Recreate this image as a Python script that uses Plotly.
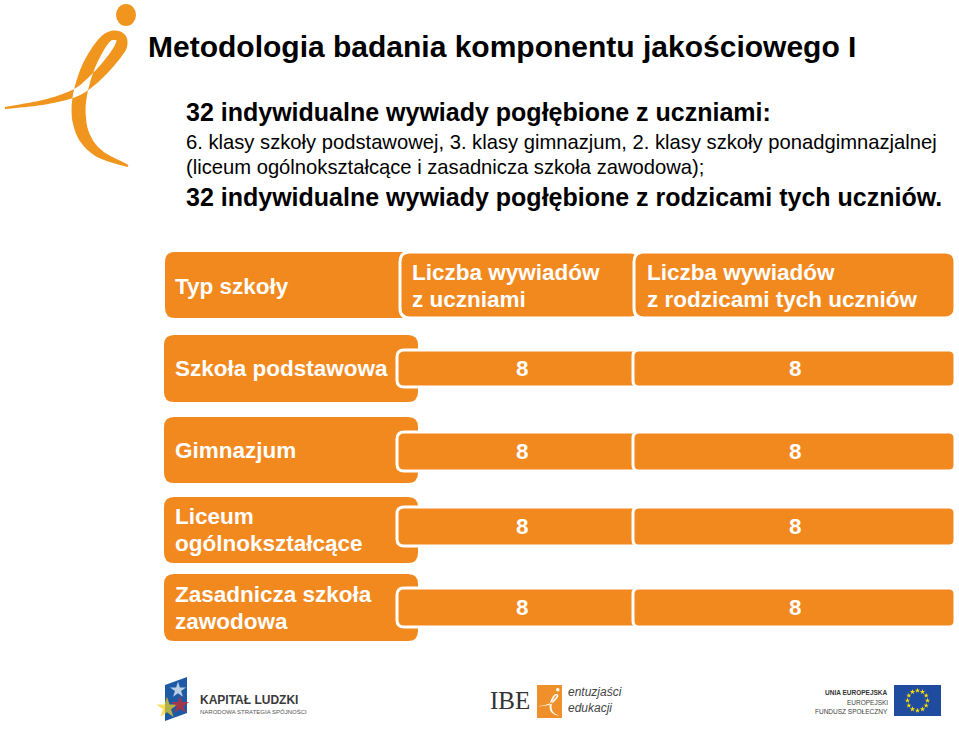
import numpy as np
import plotly.graph_objects as go

W, H = 959, 729

# ---------------- data ----------------
title = "Metodologia badania komponentu jakościowego I"
intro_bold_1 = "32 indywidualne wywiady pogłębione z uczniami:"
intro_regular = [
    "6. klasy szkoły podstawowej, 3. klasy gimnazjum, 2. klasy szkoły ponadgimnazjalnej",
    "(liceum ogólnokształcące i zasadnicza szkoła zawodowa);",
]
intro_bold_2 = "32 indywidualne wywiady pogłębione z rodzicami tych uczniów."

header_labels = ["Typ szkoły", "Liczba wywiadów<br>z uczniami", "Liczba wywiadów<br>z rodzicami tych uczniów"]
school_types = ["Szkoła podstawowa", "Gimnazjum", "Liceum<br>ogólnokształcące", "Zasadnicza szkoła<br>zawodowa"]
interviews_students = [8, 8, 8, 8]
interviews_parents = [8, 8, 8, 8]

# ---------------- style ----------------
ORANGE = "#F2891F"
LOGO = "#F0961E"
FONT = "Liberation Sans, Arial, sans-serif"
TABLE_FS = 22.5
LINE_GAP = 27

shapes = []
annotations = []


def rrect(x0, y0, x1, y1, r):
    return (f"M {x0+r},{y0} L {x1-r},{y0} Q {x1},{y0} {x1},{y0+r} "
            f"L {x1},{y1-r} Q {x1},{y1} {x1-r},{y1} L {x0+r},{y1} "
            f"Q {x0},{y1} {x0},{y1-r} L {x0},{y0+r} Q {x0},{y0} {x0+r},{y0} Z")


def add_box(x0, y0, x1, y1, r, outline=0):
    shapes.append(dict(type="path", path=rrect(x0, y0, x1, y1, r), xref="x", yref="y",
                       fillcolor=ORANGE,
                       line=dict(color="white", width=outline) if outline else dict(width=0),
                       layer="above"))


def text(x, y, s, size, bold=False, color="black", anchor="left", family=FONT, italic=False):
    if bold:
        s = f"<b>{s}</b>"
    if italic:
        s = f"<i>{s}</i>"
    dx = {"left": -2, "right": 2, "center": 0}[anchor]
    annotations.append(dict(x=x + dx, y=y, xref="x", yref="y", text=s, showarrow=False,
                            xanchor=anchor, yanchor="middle", align=anchor,
                            font=dict(size=size, color=color, family=family)))


def multiline(x, yc, s, size, **kw):
    lines = s.split("<br>")
    n = len(lines)
    for k, ln in enumerate(lines):
        text(x, yc + (k - (n - 1) / 2) * LINE_GAP, ln, size, **kw)


# ---------------- figure logo (stroke polygon) ----------------
logo_pts = np.array([(5, 108), (45, 102), (75, 93), (93, 80), (110, 62), (121, 46), (120, 37),
                     (110, 36), (100, 46), (88, 68), (80, 95), (79, 118), (85, 138), (100, 154),
                     (128, 166)], float)
logo_w = np.array([2, 5, 8, 10, 11, 12, 10, 9, 11, 13, 14, 14, 12, 8, 2], float)


def catmull(P, n=14):
    P = np.vstack([P[0], P, P[-1]])
    out = []
    for i in range(1, len(P) - 2):
        p0, p1, p2, p3 = P[i - 1], P[i], P[i + 1], P[i + 2]
        for t in np.linspace(0, 1, n, endpoint=False):
            out.append(0.5 * ((2 * p1) + (-p0 + p2) * t + (2 * p0 - 5 * p1 + 4 * p2 - p3) * t * t
                              + (-p0 + 3 * p1 - 3 * p2 + p3) * t ** 3))
    out.append(P[-2])
    return np.array(out)


def logo_path(sx=1.0, sy=1.0, ox=0.0, oy=0.0, wscale=1.0):
    C = catmull(logo_pts)
    idx = np.linspace(0, len(logo_pts) - 1, len(C))
    w = np.interp(idx, np.arange(len(logo_pts)), logo_w) * wscale
    d = np.gradient(C, axis=0)
    d /= np.linalg.norm(d, axis=1, keepdims=True)
    nrm = np.stack([-d[:, 1], d[:, 0]], axis=1)
    L = C + nrm * w[:, None] / 2
    R = C - nrm * w[:, None] / 2
    poly = np.vstack([L, R[::-1]])
    poly[:, 0] = poly[:, 0] * sx + ox
    poly[:, 1] = poly[:, 1] * sy + oy
    return "M " + " L ".join(f"{x:.1f},{y:.1f}" for x, y in poly) + " Z"


shapes.append(dict(type="path", path=logo_path(), xref="x", yref="y", fillcolor=LOGO, line=dict(width=0)))
shapes.append(dict(type="circle", xref="x", yref="y", x0=116, x1=136, y0=4, y1=26, fillcolor=LOGO, line=dict(width=0)))

# ---------------- header texts ----------------
text(148, 46, title, 30, bold=True)
text(186, 112, intro_bold_1, 25, bold=True)
text(186, 142, intro_regular[0], 20.2)
text(186, 167, intro_regular[1], 20.2)
text(186, 197, intro_bold_2, 25, bold=True)

# ---------------- table ----------------
add_box(165, 252, 412, 318, 10)
add_box(400, 252, 640, 318, 10, outline=3)
add_box(634, 252, 955, 318, 10, outline=3)
multiline(175, 286, header_labels[0], TABLE_FS, bold=True, color="white")
multiline(412, 286, header_labels[1], TABLE_FS, bold=True, color="white")
multiline(647, 286, header_labels[2], TABLE_FS, bold=True, color="white")

row_boxes = [(335, 402), (417, 483), (497, 563), (574, 641)]
bar_boxes = [(350, 387), (432, 471), (507, 546), (588, 627)]
for i, (lab, vs, vp) in enumerate(zip(school_types, interviews_students, interviews_parents)):
    y0, y1 = row_boxes[i]
    b0, b1 = bar_boxes[i]
    add_box(164, y0, 418, y1, 10)
    add_box(397, b0, 640, b1, 7, outline=3)
    add_box(633, b0, 955, b1, 6, outline=3)
    multiline(175, (y0 + y1) / 2, lab, TABLE_FS, bold=True, color="white")
    text(522, (b0 + b1) / 2, str(vs), TABLE_FS, bold=True, color="white", anchor="center")
    text(795, (b0 + b1) / 2, str(vp), TABLE_FS, bold=True, color="white", anchor="center")

# ---------------- footer logos ----------------
shapes.append(dict(type="path", path="M 165,685 L 187,677 L 187,713 L 165,721 Z", xref="x", yref="y",
                   fillcolor="#1C5AA6", line=dict(width=0), layer="below"))
text(200, 700, "KAPITAŁ LUDZKI", 12, bold=True, color="#3a3a3a")
text(200, 711, "NARODOWA STRATEGIA SPÓJNOŚCI", 6, color="#555555")
text(490, 700, "IBE", 25, color="#333333", family="Liberation Serif, Times New Roman, serif")
shapes.append(dict(type="rect", xref="x", yref="y", x0=537, x1=562, y0=685, y1=718, fillcolor="#F0902A",
                   line=dict(width=0)))
shapes.append(dict(type="path", path=logo_path(0.16, 0.16, 538, 689, wscale=0.9), xref="x", yref="y",
                   fillcolor="white", line=dict(width=0)))
shapes.append(dict(type="circle", xref="x", yref="y", x0=556, x1=559.5, y0=688, y1=691.5, fillcolor="white",
                   line=dict(width=0)))
text(568, 692, "entuzjaści", 12, color="#444444", italic=True)
text(568, 708, "edukacji", 12, color="#444444", italic=True)
text(888, 692, "UNIA EUROPEJSKA", 6.5, bold=True, color="#333333", anchor="right")
text(888, 702, "EUROPEJSKI", 6.5, color="#444444", anchor="right")
text(888, 711, "FUNDUSZ SPOŁECZNY", 6.5, color="#444444", anchor="right")
shapes.append(dict(type="rect", xref="x", yref="y", x0=894, x1=941, y0=685, y1=716, fillcolor="#1F4C9E",
                   line=dict(width=0), layer="below"))

ang = np.linspace(0, 2 * np.pi, 12, endpoint=False)
fig = go.Figure()
fig.add_trace(go.Scatter(x=917.5 + 10 * np.cos(ang), y=700.5 + 10 * np.sin(ang), mode="markers",
                         marker=dict(symbol="star", size=4, color="#FFDD00", line=dict(width=0)),
                         hoverinfo="skip"))
fig.add_trace(go.Scatter(x=[167, 180, 178], y=[708, 705, 690], mode="markers",
                         marker=dict(symbol="star", size=[16, 14, 12], color=["#F5D31C", "#D6262B", "white"],
                                     line=dict(width=0)), hoverinfo="skip"))

fig.update_layout(
    width=W, height=H, margin=dict(l=0, r=0, t=0, b=0),
    paper_bgcolor="white", plot_bgcolor="white", showlegend=False, hovermode=False,
    xaxis=dict(range=[0, W], visible=False, fixedrange=True),
    yaxis=dict(range=[H, 0], visible=False, fixedrange=True),
    shapes=shapes, annotations=annotations,
)
fig.write_html("out.html", config={"displayModeBar": False},
               post_script="document.body.style.margin='0';document.body.style.overflow='hidden';")
